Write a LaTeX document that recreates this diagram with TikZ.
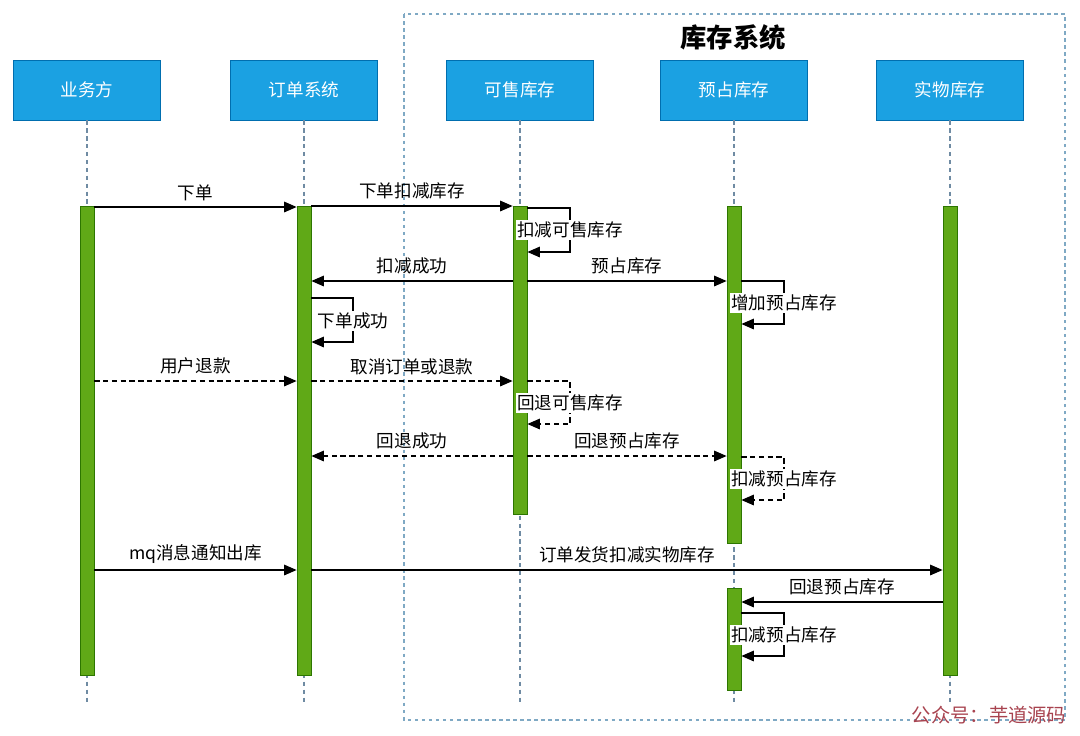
\documentclass[tikz,border=0pt]{standalone}
\usepackage{fontspec}
\newfontfamily\cjk{Noto Sans CJK SC}
\usetikzlibrary{arrows.meta}
\definecolor{boxblue}{HTML}{1BA1E2}
\definecolor{boxline}{HTML}{006EAF}
\definecolor{bargreen}{HTML}{60A917}
\definecolor{barline}{HTML}{2D7600}
\definecolor{lifegray}{HTML}{6F8BA3}
\definecolor{framecol}{HTML}{7FA9C4}
\definecolor{markred}{HTML}{A8434F}

\begin{document}
\begin{tikzpicture}[x=0.02cm,y=-0.02cm,>={Triangle[length=2.5mm,width=2.1mm]},
  every node/.style={font=\cjk\fontsize{10}{12}\selectfont},
  actor/.style={draw=boxline,fill=boxblue,text=white,minimum width=2.94cm,minimum height=1.2cm},
  bar/.style={draw=barline,fill=bargreen,minimum width=0.28cm,inner sep=0pt},
  life/.style={draw=lifegray,dash pattern=on 2.5pt off 2pt,line width=0.6pt},
  msg/.style={->,line width=0.8pt},
  back/.style={msg,dash pattern=on 3pt off 2pt},
  looplabel/.style={fill=white,inner sep=1pt}]
  \useasboundingbox (0,0) rectangle (1080,735);

  % inventory system frame
  \draw[framecol,dash pattern=on 2pt off 2pt,line width=0.6pt] (404,14) rectangle (1065,720);
  \node[font=\cjk\bfseries\fontsize{15}{18}\selectfont] (title) at (733,37) {库存系统};

  % participants
  \node[actor] (biz)  at (87,90)  {业务方};
  \node[actor] (ord)  at (304,90) {订单系统};
  \node[actor] (sale) at (520,90) {可售库存};
  \node[actor] (hold) at (734,90) {预占库存};
  \node[actor] (real) at (950,90) {实物库存};

  % lifelines
  \coordinate (bizend)  at (87,703);
  \coordinate (ordend)  at (304,703);
  \coordinate (saleend) at (520,703);
  \coordinate (holdend) at (734,703);
  \coordinate (realend) at (950,703);
  \draw[life] (biz) -- (bizend);
  \draw[life] (ord) -- (ordend);
  \draw[life] (sale) -- (saleend);
  \draw[life] (hold) -- (holdend);
  \draw[life] (real) -- (realend);

  % activations
  \node[bar,minimum height=9.38cm] (bizbar)   at (87,440.5)  {};
  \node[bar,minimum height=9.38cm] (ordbar)   at (304,440.5) {};
  \node[bar,minimum height=6.16cm] (salebar)  at (520,360)   {};
  \node[bar,minimum height=6.74cm] (holdbar)  at (734,374.5) {};
  \node[bar,minimum height=2.04cm] (holdbarb) at (734,639)   {};
  \node[bar,minimum height=9.38cm] (realbar)  at (950,440.5) {};

  % place order
  \draw[msg] (bizbar.east |- 0,207) -- node[above] {下单} (ordbar.west |- 0,207);
  \draw[msg] (ordbar.east |- 0,206) -- node[above] {下单扣减库存} (salebar.west |- 0,206);
  \draw[msg] (salebar.east |- 0,208) -| (570,230) node[looplabel] {扣减可售库存} |- (salebar.east |- 0,252);
  \draw[msg] (salebar.west |- 0,281) -- node[above] {扣减成功} (ordbar.east |- 0,281);
  \draw[msg] (salebar.east |- 0,281) -- node[above] {预占库存} (holdbar.west |- 0,281);
  \draw[msg] (holdbar.east |- 0,281) -| (784,303) node[looplabel] {增加预占库存} |- (holdbar.east |- 0,324);
  \draw[msg] (ordbar.east |- 0,298) -| (353,321) node[looplabel] {下单成功} |- (ordbar.east |- 0,342);

  % refund
  \draw[back] (bizbar.east |- 0,381) -- node[above] {用户退款} (ordbar.west |- 0,381);
  \draw[back] (ordbar.east |- 0,381) -- node[above] {取消订单或退款} (salebar.west |- 0,381);
  \draw[back] (salebar.east |- 0,381) -| (570,403) node[looplabel] {回退可售库存} |- (salebar.east |- 0,424);
  \draw[back] (salebar.west |- 0,456) -- node[above] {回退成功} (ordbar.east |- 0,456);
  \draw[back] (salebar.east |- 0,456) -- node[above] {回退预占库存} (holdbar.west |- 0,456);
  \draw[back] (holdbar.east |- 0,457) -| (784,479) node[looplabel] {扣减预占库存} |- (holdbar.east |- 0,500);

  % shipping
  \draw[msg] (bizbar.east |- 0,570) -- node[above] {mq消息通知出库} (ordbar.west |- 0,570);
  \draw[msg] (ordbar.east |- 0,570) -- node[above] {订单发货扣减实物库存} (realbar.west |- 0,570);
  \draw[msg] (realbar.west |- 0,602) -- node[above] {回退预占库存} (holdbarb.east |- 0,602);
  \draw[msg] (holdbarb.east |- 0,613) -| (784,635) node[looplabel] {扣减预占库存} |- (holdbarb.east |- 0,656);

  \node[text=markred,font=\cjk\fontsize{11}{13}\selectfont] (mark) at (989,715) {公众号：芋道源码};
\end{tikzpicture}
\end{document}
